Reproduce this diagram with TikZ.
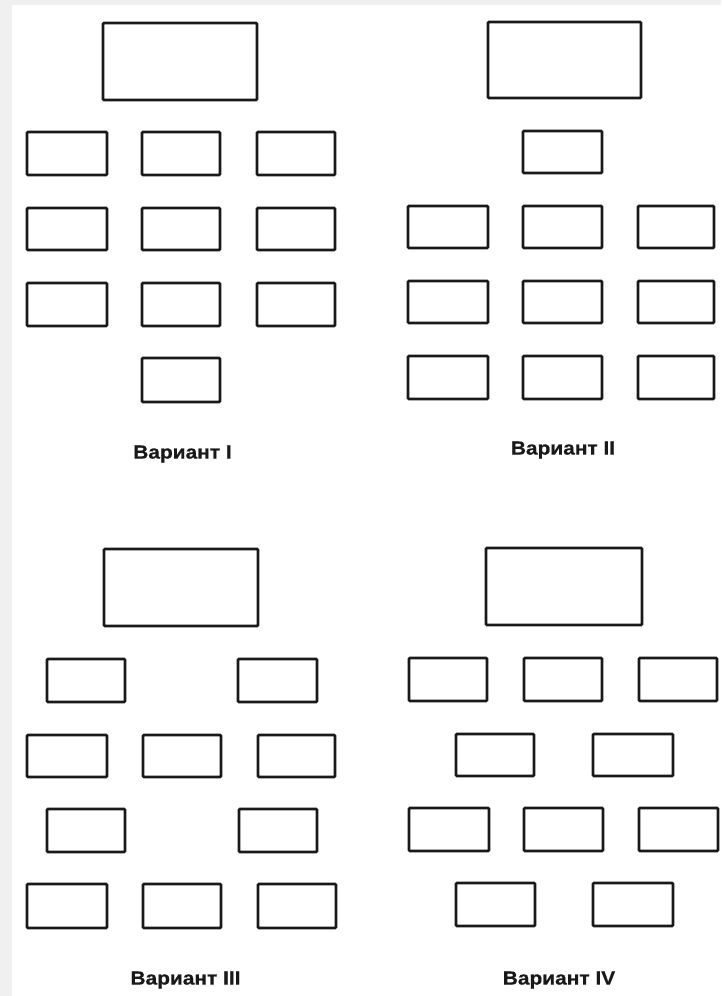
\documentclass[tikz,border=0pt]{standalone}
\usepackage{fontspec}
\setmainfont{Liberation Sans}
\newfontfamily\lblfont[FakeStretch=1.1,FakeBold=0.6]{Liberation Sans}
\newcommand\bx[5]{\node[box,anchor=north west,minimum width={(#4-#2)*1pt},minimum height={(#5-#3)*1pt}] (#1) at (#2pt,-#3pt) {};}
\tikzset{
  box/.style={draw=black!90, line width=2.8pt, rounded corners=1pt, fill=white, inner sep=0pt, outer sep=0pt},
  lbl/.style={font=\lblfont\bfseries\fontsize{19}{22}\selectfont, text=black!90, inner sep=0pt}
}
\begin{document}
\begin{tikzpicture}[x=1pt,y=1pt]
\fill[black!6] (0,0) rectangle (721,-996);
\fill[white] (12,-5) rectangle (721,-996);
\useasboundingbox (0,0) rectangle (721,-996);
% Variant I
\bx{a0}{103}{23}{257}{100}
\bx{a11}{27}{132}{107}{175}
\bx{a12}{142}{132}{220}{175}
\bx{a13}{257}{132}{335}{175}
\bx{a21}{27}{208}{107}{250}
\bx{a22}{142}{208}{220}{250}
\bx{a23}{257}{208}{335}{250}
\bx{a31}{27}{283}{107}{326}
\bx{a32}{142}{283}{220}{326}
\bx{a33}{257}{283}{335}{326}
\bx{a41}{142}{358}{220}{402}
\node[lbl] (la) at (182.5,-454) {Вариант I};
% Variant II
\bx{b0}{488}{22}{641}{98}
\bx{b11}{523}{131}{602}{173}
\bx{b21}{408}{206}{488}{248}
\bx{b22}{523}{206}{602}{248}
\bx{b23}{638}{206}{714}{248}
\bx{b31}{408}{281}{488}{323}
\bx{b32}{523}{281}{602}{323}
\bx{b33}{638}{281}{714}{323}
\bx{b41}{408}{356}{488}{399}
\bx{b42}{523}{356}{602}{399}
\bx{b43}{638}{356}{714}{399}
\node[lbl] (lb) at (563,-450) {Вариант II};
% Variant III
\bx{c0}{104}{549}{258}{626}
\bx{c11}{47}{659}{125}{702}
\bx{c12}{238}{659}{317}{702}
\bx{c21}{27}{735}{107}{777}
\bx{c22}{143}{735}{221}{777}
\bx{c23}{258}{735}{335}{777}
\bx{c31}{47}{809}{125}{852}
\bx{c32}{239}{809}{317}{852}
\bx{c41}{27}{884}{107}{928}
\bx{c42}{143}{884}{221}{928}
\bx{c43}{258}{884}{336}{928}
\node[lbl] (lc) at (185.5,-980) {Вариант III};
% Variant IV
\bx{d0}{486}{548}{642}{625}
\bx{d11}{409}{658}{487}{701}
\bx{d12}{524}{658}{602}{701}
\bx{d13}{639}{658}{717}{701}
\bx{d21}{456}{734}{534}{776}
\bx{d22}{593}{734}{673}{776}
\bx{d31}{409}{808}{489}{851}
\bx{d32}{524}{808}{603}{851}
\bx{d33}{639}{808}{718}{851}
\bx{d41}{456}{883}{535}{926}
\bx{d42}{593}{883}{673}{926}
\node[lbl] (ld) at (559,-980) {Вариант IV};
\end{tikzpicture}
\end{document}
